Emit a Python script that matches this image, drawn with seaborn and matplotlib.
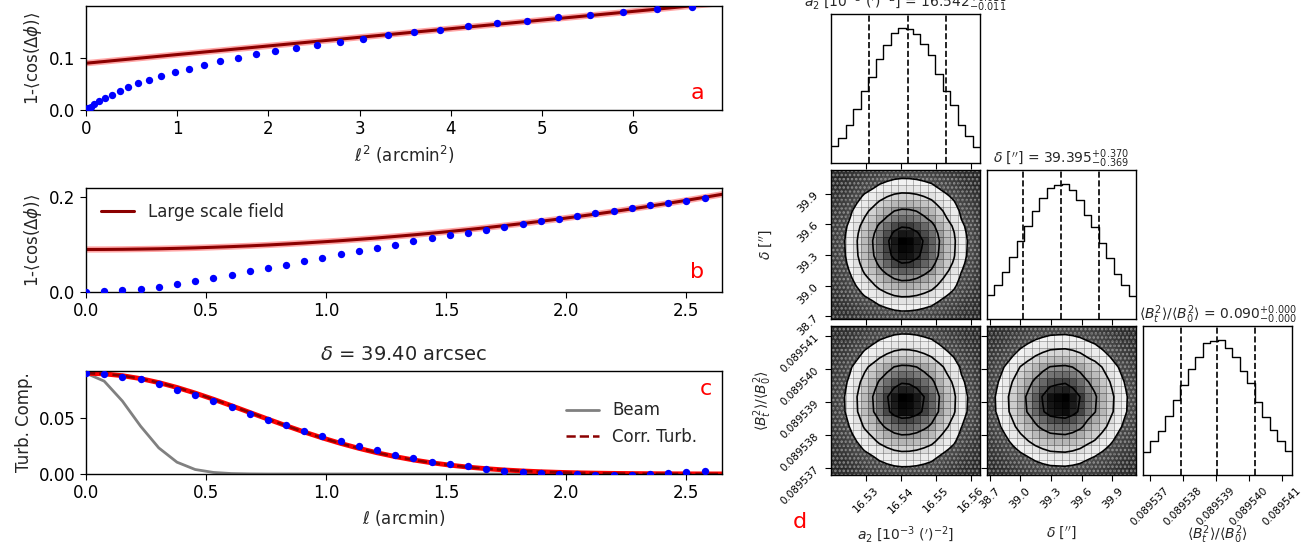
import numpy as np
import pandas as pd
import matplotlib
matplotlib.use("Agg")
import matplotlib.pyplot as plt
import seaborn as sns
from matplotlib.colors import LinearSegmentedColormap
from matplotlib.patches import Rectangle
from matplotlib.ticker import FormatStrFormatter, NullFormatter

# ---------------- data: dispersion function panels ----------------
ell = [0.0, 0.0758, 0.1516, 0.2274, 0.3032, 0.379, 0.4548, 0.5306, 0.6064, 0.6822,
       0.758, 0.8338, 0.9096, 0.9854, 1.0612, 1.137, 1.2128, 1.2886, 1.3644, 1.4402,
       1.516, 1.5918, 1.6676, 1.7434, 1.8192, 1.895, 1.9708, 2.0466, 2.1224, 2.1982,
       2.274, 2.3498, 2.4256, 2.5014, 2.5772]
one_minus_cos = [0.0, 0.0015, 0.004, 0.0065, 0.011, 0.017, 0.023, 0.0296, 0.0366, 0.0436,
                 0.051, 0.0577, 0.0647, 0.0720, 0.0792, 0.0859, 0.0930, 0.0999, 0.1065, 0.1128,
                 0.1190, 0.1245, 0.1310, 0.1368, 0.1430, 0.1488, 0.1540, 0.1605, 0.1660, 0.1712,
                 0.1770, 0.1823, 0.1878, 0.1925, 0.1972]
turb_points = [0.0895, 0.0885, 0.0866, 0.0843, 0.0803, 0.0747, 0.0699, 0.0645, 0.0592, 0.0537,
               0.0480, 0.0434, 0.0385, 0.0337, 0.0291, 0.0251, 0.0213, 0.0172, 0.0139, 0.0111,
               0.0088, 0.0068, 0.0045, 0.0027, 0.0016, 0.0008, 0.0003, -0.0004, -0.0008, -0.0010,
               -0.0007, -0.0002, 0.0005, 0.0019, 0.0028]

curve_ell = ell + [2.65]
large_scale = [0.0895, 0.0896, 0.0899, 0.0904, 0.0910, 0.0919, 0.0929, 0.0942, 0.0956, 0.0972,
               0.0990, 0.1010, 0.1032, 0.1056, 0.1081, 0.1109, 0.1138, 0.1170, 0.1203, 0.1238,
               0.1275, 0.1314, 0.1355, 0.1398, 0.1442, 0.1489, 0.1537, 0.1588, 0.1640, 0.1694,
               0.1750, 0.1808, 0.1868, 0.1930, 0.1994, 0.2057]
corr_turb = [0.0895, 0.08896, 0.08735, 0.08473, 0.08120, 0.07688, 0.07190, 0.06644, 0.06065, 0.05469,
             0.04873, 0.04289, 0.03729, 0.03203, 0.02718, 0.02279, 0.01887, 0.01544, 0.01248, 0.00997,
             0.00787, 0.00613, 0.00472, 0.00359, 0.00270, 0.00200, 0.00147, 0.00106, 0.00076, 0.00054,
             0.00038, 0.00026, 0.00018, 0.00012, 0.00008, 0.00006]
beam = [0.0895, 0.0825, 0.0648, 0.0425, 0.0232, 0.0105, 0.0040, 0.0014, 0.0004, 0.0001,
        0.0, 0.0, 0.0, 0.0, 0.0, 0.0, 0.0, 0.0, 0.0, 0.0,
        0.0, 0.0, 0.0, 0.0, 0.0, 0.0, 0.0, 0.0, 0.0, 0.0,
        0.0, 0.0, 0.0, 0.0, 0.0, 0.0]

ticks_a_x = [0, 1, 2, 3, 4, 5, 6]
ticks_bc_x = [0.0, 0.5, 1.0, 1.5, 2.0, 2.5]

# ---------------- data: corner plot ----------------
a2_range = (16.520, 16.5626)
delta_range = (38.675, 40.130)
bratio_range = (0.0895368, 0.0895413)
a2_hist = [47, 70, 107, 151, 202, 242, 292, 331, 364, 380, 377, 362, 335, 302, 249, 202, 162, 107, 77, 46]
delta_hist = [70, 102, 139, 185, 233, 277, 322, 360, 390, 398, 403, 385, 355, 308, 273, 225, 180, 135, 100, 68]
bratio_hist = [67, 100, 132, 175, 222, 267, 315, 350, 393, 398, 403, 377, 350, 309, 275, 217, 173, 135, 100, 70]
a2_q = [16.531, 16.542, 16.553]
delta_q = [39.026, 39.395, 39.765]
bratio_q = [0.08953794, 0.08953905, 0.08954018]
a2_ticks = [16.53, 16.54, 16.55, 16.56]
delta_ticks = [38.7, 39.0, 39.3, 39.6, 39.9]
bratio_ticks = [0.089537, 0.089538, 0.089539, 0.089540, 0.089541]

a2_label = r"$a_2$ [10$^{-3}$ ($^{\prime}$)$^{-2}$]"
delta_label = r"$\delta$ [$^{\prime\prime}$]"
bratio_label = r"$\langle B_t^2\rangle/\langle B_0^2\rangle$"
a2_title = a2_label + r" = $16.542_{-0.011}^{+0.011}$"
delta_title = delta_label + r" = $39.395_{-0.369}^{+0.370}$"
bratio_title = bratio_label + r" = $0.090_{-0.000}^{+0.000}$"

# ---------------- figure ----------------
sns.set_style("ticks")
plt.rcParams["font.family"] = ["DejaVu Sans"]
plt.rcParams["axes.edgecolor"] = "black"
plt.rcParams["xtick.color"] = "black"
plt.rcParams["ytick.color"] = "black"
plt.rcParams["hatch.linewidth"] = 1.2

W, H = 1312, 544
fig = plt.figure(figsize=(W / 100, H / 100), dpi=100)


def add_px(x0, y0, w, h):
    return fig.add_axes([x0 / W, 1 - (y0 + h) / H, w / W, h / H])


FS = 12
ell_arr = np.array(ell)
cell_arr = np.array(curve_ell)

# panel a
axa = add_px(86, 6, 636, 104)
sns.lineplot(x=cell_arr ** 2, y=large_scale, ax=axa, color="red", lw=4.5, alpha=0.35, estimator=None, sort=False)
sns.lineplot(x=cell_arr ** 2, y=large_scale, ax=axa, color="darkred", lw=2.2, estimator=None, sort=False)
sns.scatterplot(x=ell_arr ** 2, y=one_minus_cos, ax=axa, color="blue", s=28, linewidth=0, zorder=3)
axa.set_xlim(0, 6.97)
axa.set_ylim(0, 0.199)
axa.set_xticks(ticks_a_x)
axa.set_yticks([0.0, 0.1])
axa.yaxis.set_major_formatter(FormatStrFormatter("%.1f"))
axa.set_xlabel(r"$\ell^2$ (arcmin$^2$)", fontsize=FS)
axa.set_ylabel(r"1-$\langle\cos(\Delta\phi)\rangle$", fontsize=FS)
axa.text(0.961, 0.16, "a", color="red", fontsize=16, transform=axa.transAxes, ha="center", va="center")

# panel b
axb = add_px(86, 188, 636, 104)
sns.lineplot(x=cell_arr, y=large_scale, ax=axb, color="red", lw=4.5, alpha=0.35, estimator=None, sort=False)
sns.lineplot(x=cell_arr, y=large_scale, ax=axb, color="darkred", lw=2.2, estimator=None, sort=False,
             label="Large scale field")
sns.scatterplot(x=ell_arr, y=one_minus_cos, ax=axb, color="blue", s=28, linewidth=0, zorder=3)
axb.set_xlim(0, 2.65)
axb.set_ylim(0, 0.219)
axb.set_xticks(ticks_bc_x)
axb.set_yticks([0.0, 0.2])
axb.yaxis.set_major_formatter(FormatStrFormatter("%.1f"))
axb.set_ylabel(r"1-$\langle\cos(\Delta\phi)\rangle$", fontsize=FS)
axb.legend(loc="upper left", frameon=False, fontsize=FS, handlelength=2.0)
axb.text(0.961, 0.19, "b", color="red", fontsize=16, transform=axb.transAxes, ha="center", va="center")

# panel c
axc = add_px(86, 371, 636, 103)
sns.lineplot(x=cell_arr, y=beam, ax=axc, color="gray", lw=2, estimator=None, sort=False, label="Beam")
sns.lineplot(x=cell_arr, y=corr_turb, ax=axc, color="red", lw=3.5, estimator=None, sort=False)
sns.lineplot(x=cell_arr, y=corr_turb, ax=axc, color="darkred", lw=1.8, linestyle="--", estimator=None,
             sort=False, label="Corr. Turb.")
sns.scatterplot(x=ell_arr, y=turb_points, ax=axc, color="blue", s=28, linewidth=0, zorder=3)
axc.set_xlim(0, 2.65)
axc.set_ylim(0, 0.0915)
axc.set_xticks(ticks_bc_x)
axc.set_yticks([0.0, 0.05])
axc.yaxis.set_major_formatter(FormatStrFormatter("%.2f"))
axc.set_xlabel(r"$\ell$ (arcmin)", fontsize=FS)
axc.set_ylabel("Turb. Comp.", fontsize=FS)
axc.set_title(r"$\delta$ = 39.40 arcsec", fontsize=14, pad=8)
axc.legend(loc="upper right", bbox_to_anchor=(0.985, 0.85), frameon=False, fontsize=FS, handlelength=2.0)
axc.text(0.975, 0.83, "c", color="red", fontsize=16, transform=axc.transAxes, ha="center", va="center")

for ax in (axa, axb, axc):
    ax.tick_params(labelsize=FS, direction="out", length=4)
    for s in ax.spines.values():
        s.set_visible(True)
        s.set_linewidth(1.0)

# ---------------- corner plot ----------------
params = [
    dict(rng=a2_range, hist=a2_hist, q=a2_q, ticks=a2_ticks, fmt="%.2f", label=a2_label, title=a2_title, tl=8),
    dict(rng=delta_range, hist=delta_hist, q=delta_q, ticks=delta_ticks, fmt="%.1f", label=delta_label, title=delta_title, tl=8),
    dict(rng=bratio_range, hist=bratio_hist, q=bratio_q, ticks=bratio_ticks, fmt="%.6f", label=bratio_label, title=bratio_title, tl=7.5),
]
for p in params:
    p["edges"] = np.linspace(p["rng"][0], p["rng"][1], len(p["hist"]) + 1)
    p["centers"] = 0.5 * (p["edges"][1:] + p["edges"][:-1])

cols_x = [831, 987, 1143]
rows_y = [14, 170, 326]
S = 149
density_cmap = LinearSegmentedColormap.from_list("density_cmap", [(0, 0, 0, 1), (1, 1, 1, 0)])
sig_levels = 1.0 - np.exp(-0.5 * np.arange(0.5, 2.1, 0.5) ** 2)


def contour_levels(Hm):
    flat = np.sort(Hm.flatten())[::-1]
    sm = np.cumsum(flat)
    sm /= sm[-1]
    V = np.empty(len(sig_levels))
    for k, v0 in enumerate(sig_levels):
        sel = flat[sm <= v0]
        V[k] = sel[-1] if len(sel) else flat[0]
    V.sort()
    return V


def extend(Hm, xc, yc):
    H2 = Hm.min() + np.zeros((Hm.shape[0] + 4, Hm.shape[1] + 4))
    H2[2:-2, 2:-2] = Hm
    H2[2:-2, 1] = Hm[:, 0]
    H2[2:-2, -2] = Hm[:, -1]
    H2[1, 2:-2] = Hm[0]
    H2[-2, 2:-2] = Hm[-1]
    H2[1, 1] = Hm[0, 0]
    H2[1, -2] = Hm[0, -1]
    H2[-2, 1] = Hm[-1, 0]
    H2[-2, -2] = Hm[-1, -1]
    dx0, dx1 = xc[1] - xc[0], xc[-1] - xc[-2]
    dy0, dy1 = yc[1] - yc[0], yc[-1] - yc[-2]
    X2 = np.concatenate([xc[0] + np.array([-2, -1]) * dx0, xc, xc[-1] + np.array([1, 2]) * dx1])
    Y2 = np.concatenate([yc[0] + np.array([-2, -1]) * dy0, yc, yc[-1] + np.array([1, 2]) * dy1])
    return X2, Y2, H2


for i in range(3):
    for j in range(i + 1):
        ax = add_px(cols_x[j], rows_y[i], S, S)
        px, py = params[j], params[i]
        if i == j:
            hdf = pd.DataFrame({"v": px["centers"], "w": px["hist"]})
            sns.histplot(data=hdf, x="v", weights="w", bins=list(px["edges"]), element="step",
                         fill=False, color="black", linewidth=1.0, ax=ax)
            ax.set_ylim(0, 1.1 * max(px["hist"]))
            for qv in px["q"]:
                ax.axvline(qv, color="black", ls="--", lw=1.2)
            ax.set_yticks([])
            ax.set_ylabel("")
            ax.set_title(px["title"], fontsize=10, pad=5)
        else:
            hx = np.array(px["hist"], dtype=float)
            hy = np.array(py["hist"], dtype=float)
            Hm = np.outer(hy, hx)
            ax.set_facecolor("#2e2e2e")
            ax.add_patch(Rectangle((0, 0), 1, 1, transform=ax.transAxes, facecolor="none",
                                   edgecolor="#8a8a8a", hatch="....", lw=0, zorder=0.5))
            V = contour_levels(Hm)
            X2, Y2, H2 = extend(Hm, px["centers"], py["centers"])
            ax.contourf(X2, Y2, H2, [V.min(), Hm.max() * 1.01], colors=["white"], antialiased=False,
                        zorder=1)
            ax.pcolormesh(px["edges"], py["edges"], Hm.max() - Hm, cmap=density_cmap,
                          edgecolors=(0, 0, 0, 0.12), linewidth=0.4, zorder=1.5)
            ax.contour(X2, Y2, H2, V, colors="black", linewidths=1.2, zorder=2)
            ax.set_yticks(py["ticks"])
            ax.set_ylim(*py["rng"])
            if j == 0:
                ax.yaxis.set_major_formatter(FormatStrFormatter(py["fmt"]))
                for lab in ax.get_yticklabels():
                    lab.set_rotation(45)
                ax.set_ylabel(py["label"], fontsize=10)
                ax.yaxis.set_label_coords(-0.38, 0.5)
                ax.tick_params(axis="y", labelsize=py["tl"])
            else:
                ax.yaxis.set_major_formatter(NullFormatter())
        ax.set_xticks(px["ticks"])
        ax.set_xlim(*px["rng"])
        if i == 2:
            ax.xaxis.set_major_formatter(FormatStrFormatter(px["fmt"]))
            for lab in ax.get_xticklabels():
                lab.set_rotation(45)
            ax.set_xlabel(px["label"], fontsize=10)
            ax.xaxis.set_label_coords(0.5, -0.335 if j < 2 else -0.325)
            ax.tick_params(axis="x", labelsize=px["tl"])
        else:
            ax.xaxis.set_major_formatter(NullFormatter())
            ax.set_xlabel("")
        ax.tick_params(direction="out", length=4)
        for s in ax.spines.values():
            s.set_visible(True)
            s.set_linewidth(1.0)

fig.text(800 / W, 1 - 522 / H, "d", color="red", fontsize=16, ha="center", va="center")

fig.savefig("out.png", dpi=100)
